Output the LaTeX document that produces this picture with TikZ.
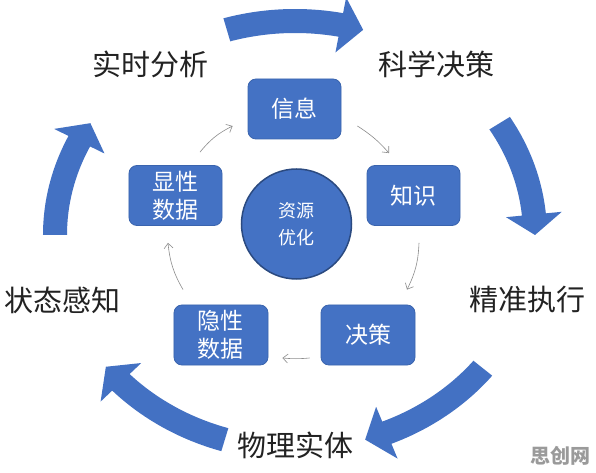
\documentclass[tikz,border=0pt]{standalone}
\usepackage{fontspec}
\newfontfamily\cjk{Noto Sans CJK SC}
\usetikzlibrary{arrows.meta}
\definecolor{boxblue}{HTML}{4472C4}
\definecolor{boxedge}{HTML}{3A64AE}
\definecolor{circedge}{HTML}{2B4A80}
\definecolor{arrowblue}{HTML}{4371C3}
\definecolor{flowgray}{HTML}{8C8C8C}
\definecolor{labelgray}{HTML}{222222}
\definecolor{markgray}{HTML}{9A9A9A}
\newcommand\bigarc[3]{% tail angle, head base angle, tip angle
  \fill[arrowblue] (#1:252pt and 226pt)
    arc[start angle=#1, end angle=#2, x radius=252pt, y radius=226pt]
    -- (#2:268pt and 242pt) -- (#3:240pt and 214pt) -- (#2:212pt and 186pt)
    -- (#2:228pt and 202pt)
    arc[start angle=#2, end angle=#1, x radius=228pt, y radius=202pt]
    -- cycle;}
\begin{document}
\begin{tikzpicture}[x=1pt,y=1pt,
  box/.style={rectangle, rounded corners=8pt, fill=boxblue, draw=boxedge,
    line width=0.8pt, minimum width=93pt, minimum height=60pt, inner sep=0pt,
    text=white, font=\cjk\fontsize{23}{28}\selectfont, align=center},
  hub/.style={circle, fill=boxblue, draw=circedge, line width=1.5pt,
    minimum size=110pt, inner sep=0pt, text=white,
    font=\cjk\fontsize{18}{27}\selectfont, align=center},
  lbl/.style={font=\cjk\fontsize{29}{35}\selectfont, text=labelgray, inner sep=0pt},
  flow/.style={draw=flowgray, line width=0.6pt, -{Straight Barb[length=5pt,width=9pt]}}]
\useasboundingbox (-295,-238) rectangle (301,235);
\fill[white] (-295,-238) rectangle (301,235);

% big outer arrows
\bigarc{106.5}{79}{73.5}
\bigarc{31.5}{5.5}{0}
\bigarc{-38.5}{-67.5}{-73}
\bigarc{-107}{-136.5}{-142}
\bigarc{180}{154}{148.5}

% outer labels
\node[lbl] (rt) at (-144,171) {实时分析};
\node[lbl] (kx) at (141,171) {科学决策};
\node[lbl] (zt) at (-232,-65) {状态感知};
\node[lbl] (jz) at (232,-65) {精准执行};
\node[lbl] (wl) at (0,-210) {物理实体};

% inner nodes
\node[box] (xinxi) at (-0.5,126) {信息};
\node[box] (zhishi) at (118.5,39.5) {知识};
\node[box] (xian) at (-119.5,39.5) {显性\\数据};
\node[box, minimum width=94pt] (yin) at (-74,-100) {隐性\\数据};
\node[box, minimum width=94pt] (juece) at (73,-100) {决策};
\node[hub] (hub) at (1.5,11) {资源\\优化};

% thin cycle arrows
\draw[flow] ([xshift=24.5pt,yshift=13pt]xian.north) to[bend left=12] ([xshift=-15pt,yshift=-17pt]xinxi.west);
\draw[flow] ([xshift=16pt,yshift=-17pt]xinxi.east) to[bend left=8] ([xshift=-24.5pt,yshift=12pt]zhishi.north);
\draw[flow] ([xshift=5.5pt,yshift=-17pt]zhishi.south) to[bend left=12] ([xshift=39pt,yshift=15pt]juece.north);
\draw[flow] ([xshift=-11pt,yshift=-23pt]juece.west) to[bend left=5] ([xshift=14pt,yshift=-23pt]yin.east);
\draw[flow] ([xshift=-38pt,yshift=15pt]yin.north) to[bend left=12] ([xshift=-7.5pt,yshift=-17pt]xian.south);

% watermark
\node[font=\cjk\bfseries\fontsize{20}{24}\selectfont, text=markgray, inner sep=0pt] (wm) at (265,-221) {思创网};
\end{tikzpicture}
\end{document}
